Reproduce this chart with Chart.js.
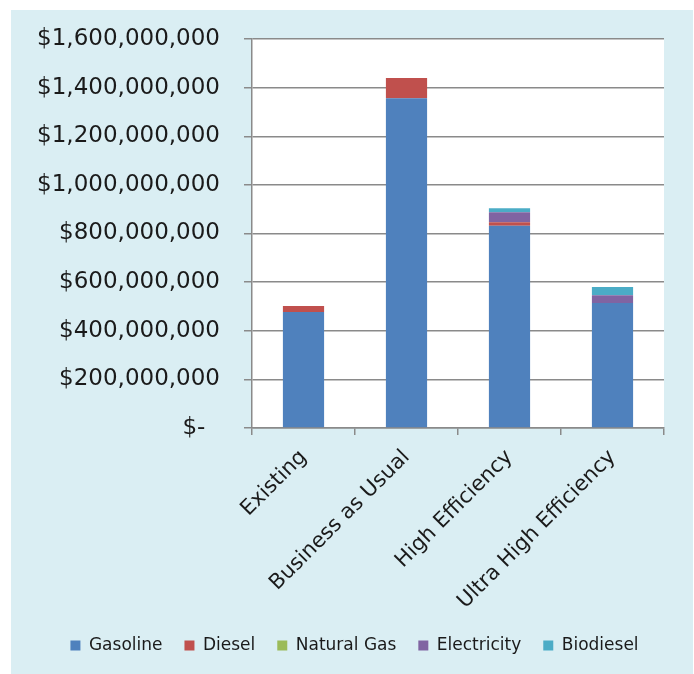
<!DOCTYPE html>
<html>
<head>
<meta charset="utf-8">
<script src="https://cdn.jsdelivr.net/npm/chart.js@4/dist/chart.umd.min.js"></script>
<style>
  html, body { margin: 0; padding: 0; background: #fff; }
  #wrap { position: absolute; left: 11px; top: 10px; width: 682px; height: 664px; background: #daeef3; }
</style>
</head>
<body>
<div id="wrap"><canvas id="chart"></canvas></div>
<script>
const scenarios   = ['Existing', 'Business as Usual', 'High Efficiency', 'Ultra High Efficiency'];
const gasoline    = [477e6, 1356e6, 832e6, 514e6];
const diesel      = [25e6, 84e6, 14e6, 0];
const naturalGas  = [0, 0, 0, 0];
const electricity = [0, 0, 41e6, 32e6];
const biodiesel   = [0, 0, 17e6, 34e6];

const axisGray = '#8a8a8a';
const font = 'DejaVu Sans';

// white plot area on top of the tinted page
const plotFill = {
  id: 'plotFill',
  beforeDraw(chart) {
    const { ctx, chartArea: a } = chart;
    ctx.save();
    ctx.fillStyle = '#ffffff';
    ctx.fillRect(a.left, a.top, a.right - a.left, a.bottom - a.top);
    ctx.restore();
  }
};

// centre the legend on the whole panel rather than the space left of the right padding
const legendShift = {
  id: 'legendShift',
  afterLayout(chart) {
    if (!chart.legend) return;
    chart.legend.left += 17;
    chart.legend.right += 17;
  }
};

function money(v) {
  if (v === 0) return '$-\u2007';
  return '$' + v.toLocaleString('en-US');
}

new Chart(document.getElementById('chart'), {
  type: 'bar',
  data: {
    labels: scenarios,
    datasets: [
      { label: 'Gasoline',    data: gasoline,    backgroundColor: '#4f81bd' },
      { label: 'Diesel',      data: diesel,      backgroundColor: '#c0504d' },
      { label: 'Natural Gas', data: naturalGas,  backgroundColor: '#9bbb59' },
      { label: 'Electricity', data: electricity, backgroundColor: '#8064a2' },
      { label: 'Biodiesel',   data: biodiesel,   backgroundColor: '#4bacc6' }
    ]
  },
  options: {
    responsive: true,
    maintainAspectRatio: false,
    animation: false,
    categoryPercentage: 0.8,
    barPercentage: 0.5,
    layout: { padding: { top: 29, right: 29, left: 0, bottom: 10 } },
    plugins: {
      tooltip: { enabled: false },
      legend: {
        position: 'bottom',
        labels: { boxWidth: 10, boxHeight: 10, padding: 22, color: '#1a1a1a', font: { family: font, size: 17 } }
      }
    },
    scales: {
      x: {
        stacked: true,
        afterFit(scale) { scale.height = 187; },
        border: { color: axisGray, width: 1.5 },
        grid: { drawOnChartArea: false, tickLength: 7, color: axisGray, lineWidth: 1.5 },
        ticks: { minRotation: 45, maxRotation: 45, padding: 10, color: '#1a1a1a', font: { family: font, size: 21 } }
      },
      y: {
        stacked: true,
        min: 0,
        max: 1600e6,
        afterFit(scale) {
          scale.width = 241;
          // the big label gap should not push the plot down
          scale.paddingTop = 10;
          scale.paddingBottom = 10;
        },
        border: { color: axisGray, width: 1.5 },
        grid: { tickLength: 8, color: axisGray, lineWidth: 1.5 },
        ticks: { stepSize: 200e6, padding: 24, color: '#1a1a1a', font: { family: font, size: 23 }, callback: money }
      }
    }
  },
  plugins: [plotFill, legendShift]
});
</script>
</body>
</html>
